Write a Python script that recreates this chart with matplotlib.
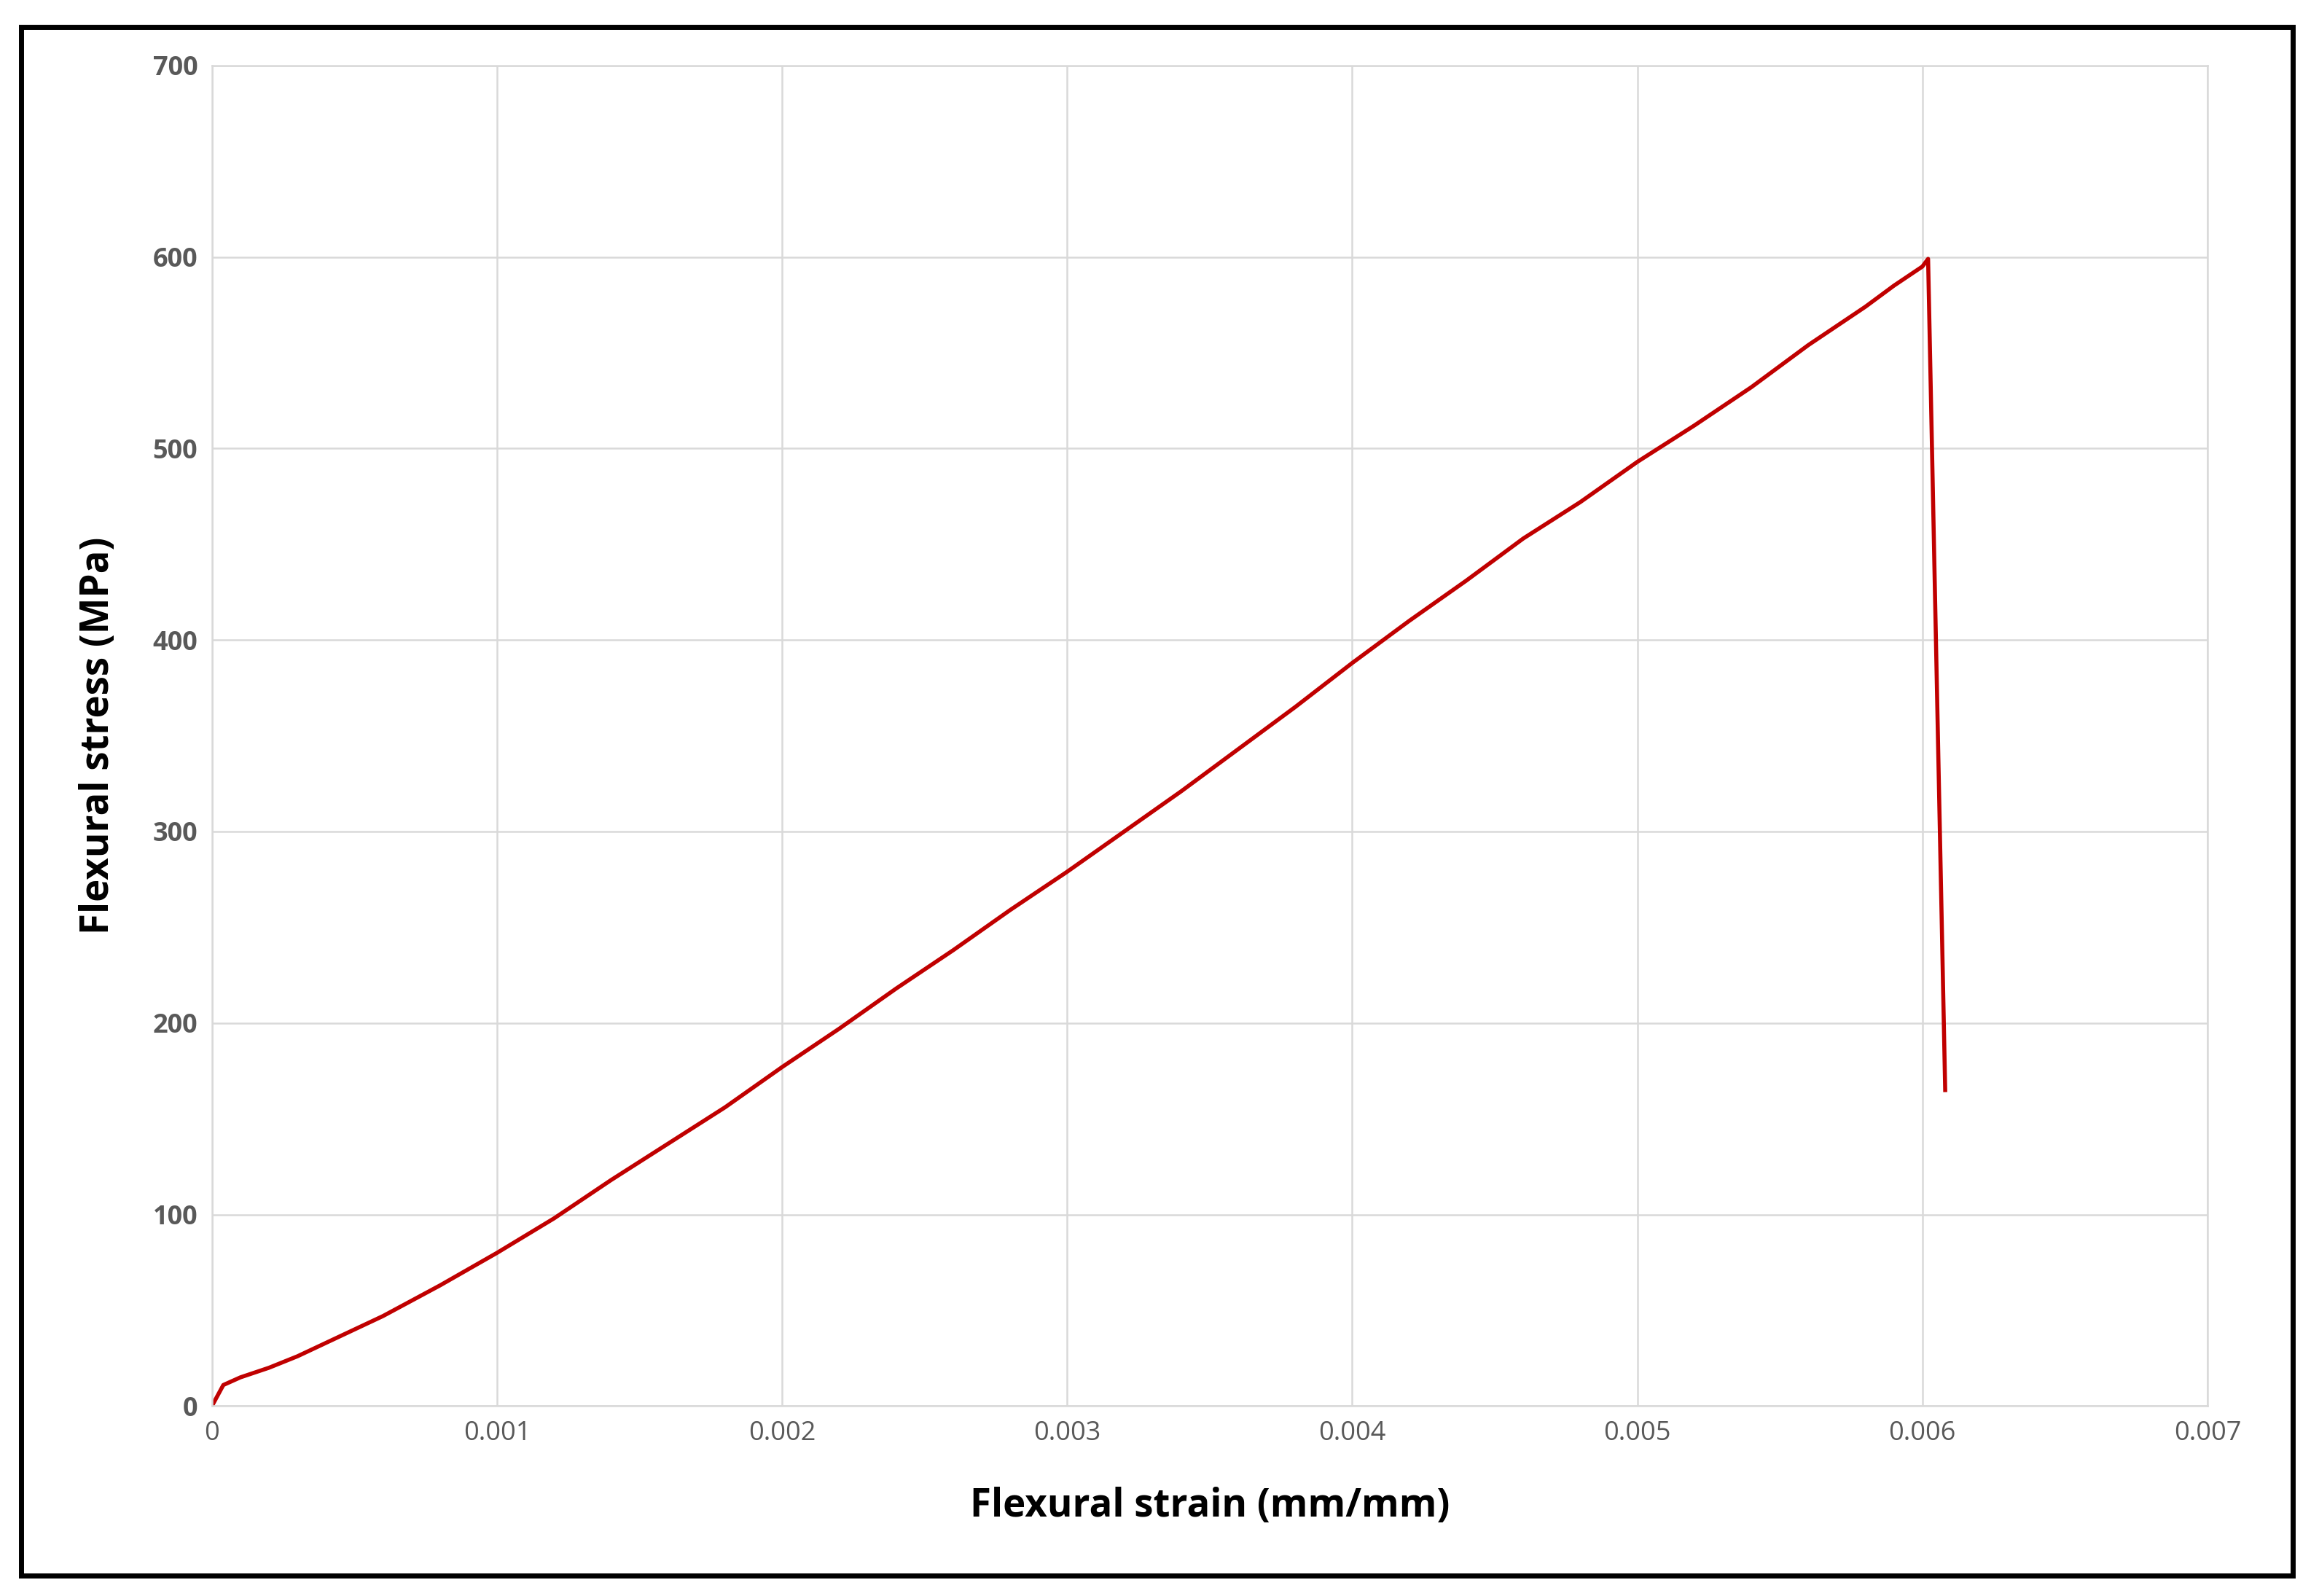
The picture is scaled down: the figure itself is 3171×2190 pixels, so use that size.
import matplotlib
matplotlib.use("Agg")
import matplotlib.pyplot as plt
from matplotlib.patches import Rectangle

strain = [0, 0.00004, 0.0001, 0.0002, 0.0003, 0.0004, 0.0005, 0.0006, 0.0008, 0.001, 0.0012, 0.0014,
          0.0016, 0.0018, 0.002, 0.0022, 0.0024, 0.0026, 0.0028, 0.003, 0.0032, 0.0034, 0.0036,
          0.0038, 0.004, 0.0042, 0.0044, 0.0046, 0.0048, 0.005, 0.0052, 0.0054, 0.0056, 0.0058,
          0.0059, 0.0060, 0.00602, 0.00608]
stress = [0, 11, 15, 20, 26, 33, 40, 47, 63, 80, 98, 118, 137, 156, 177, 197, 218, 238, 259, 279,
          300, 321, 343, 365, 388, 410, 431, 453, 472, 493, 512, 532, 554, 574, 585, 595, 599, 165]
xticks = [0, 0.001, 0.002, 0.003, 0.004, 0.005, 0.006, 0.007]
xlabels = ["0", "0.001", "0.002", "0.003", "0.004", "0.005", "0.006", "0.007"]
yticks = [0, 100, 200, 300, 400, 500, 600, 700]

plt.rcParams['font.family'] = ['Open Sans', 'DejaVu Sans']
fig = plt.figure(figsize=(31.71, 21.9), dpi=100)
ax = fig.add_axes([0.0917, 0.119, 0.8635, 0.840])
ax.plot(strain, stress, color='#C00000', lw=4)
ax.set_xlim(0, 0.007)
ax.set_ylim(0, 700)
ax.set_xticks(xticks)
ax.set_xticklabels(xlabels)
ax.set_yticks(yticks)
ax.grid(True, color='#D9D9D9', lw=1.8)
ax.tick_params(length=0, labelsize=26, colors='#595959', pad=14)
for lab in ax.get_yticklabels():
    lab.set_fontweight('bold')
for s in ['top', 'right', 'left', 'bottom']:
    ax.spines[s].set_color('#D9D9D9')
    ax.spines[s].set_linewidth(1.8)
ax.set_xlabel('Flexural strain (mm/mm)', fontsize=38, fontweight='bold', labelpad=40)
ax.set_ylabel('Flexural stress (MPa)', fontsize=38, fontweight='bold', labelpad=34)
fig.patches.append(Rectangle((0.009, 0.013), 0.983, 0.97, transform=fig.transFigure,
                             fill=False, edgecolor='black', lw=5))
fig.savefig('out.png', dpi=100)
